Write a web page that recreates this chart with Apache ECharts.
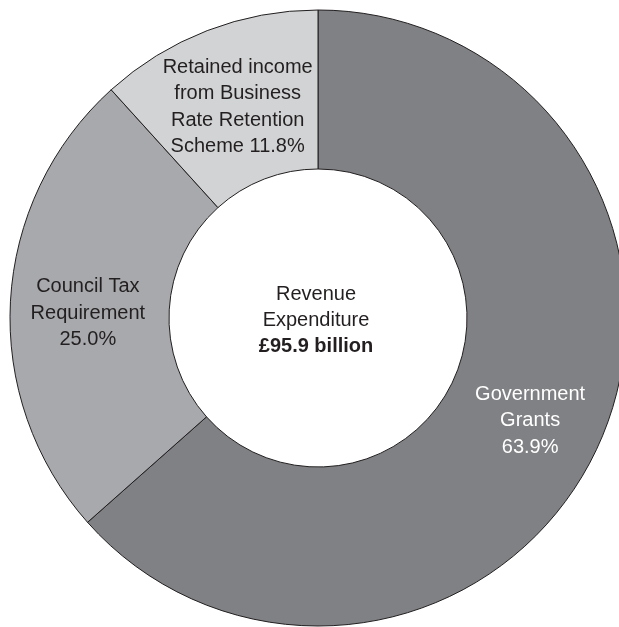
<!DOCTYPE html>
<html>
<head>
<meta charset="utf-8">
<title>Revenue Expenditure</title>
<script src="https://cdn.jsdelivr.net/npm/echarts@6/dist/echarts.min.js"></script>
<style>
  html, body { margin: 0; padding: 0; background: #ffffff; }
  #chart { width: 619px; height: 627px; }
</style>
</head>
<body>
<div id="chart"></div>
<script>
// Sources of revenue funding (per cent of total)
const categories = [
  'Government\nGrants',
  'Council Tax\nRequirement',
  'Retained income\nfrom Business\nRate Retention\nScheme'
];
const shares = [63.9, 25.0, 11.8];
const sliceColors = ['#808184', '#a7a9ac', '#d1d3d4'];
const labelColors = ['#ffffff', '#231f20', '#231f20'];

const centreTitle = ['Revenue', 'Expenditure'];
const centreTotal = '£95.9 billion';

const FONT = '"Liberation Sans", Arial, Helvetica, sans-serif';

// small nudges applied to each inside label after layout
const labelNudge = [[1, 8], [1, 8], [3, 5]];

const chart = echarts.init(document.getElementById('chart'), null, { renderer: 'canvas' });

const data = categories.map((name, i) => ({
  name,
  value: shares[i],
  itemStyle: { color: sliceColors[i] },
  label: { color: labelColors[i] }
}));

chart.setOption({
  backgroundColor: '#ffffff',
  animation: false,
  series: [{
    type: 'pie',
    center: [318, 318],
    radius: [149, 308],
    startAngle: 90,
    clockwise: true,
    avoidLabelOverlap: false,
    silent: true,
    itemStyle: {
      borderColor: '#231f20',
      borderWidth: 1
    },
    label: {
      show: true,
      position: 'inside',
      fontFamily: FONT,
      fontSize: 20,
      lineHeight: 26.5,
      align: 'center',
      formatter: p => {
        const pct = p.value.toFixed(1) + '%';
        return p.dataIndex === 2 ? p.name + ' ' + pct : p.name + '\n' + pct;
      }
    },
    labelLayout: p => ({ dx: labelNudge[p.dataIndex][0], dy: labelNudge[p.dataIndex][1] }),
    labelLine: { show: false },
    emphasis: { disabled: true },
    data
  }],
  graphic: [{
    type: 'text',
    x: 316,
    y: 320,
    style: {
      text: centreTitle.join('\n') + '\n{b|' + centreTotal + '}',
      fontFamily: FONT,
      fontSize: 20,
      lineHeight: 26,
      fill: '#231f20',
      align: 'center',
      verticalAlign: 'middle',
      rich: {
        b: { fontFamily: FONT, fontSize: 20, fontWeight: 'bold', lineHeight: 26, fill: '#231f20' }
      }
    }
  }]
});
</script>
</body>
</html>
